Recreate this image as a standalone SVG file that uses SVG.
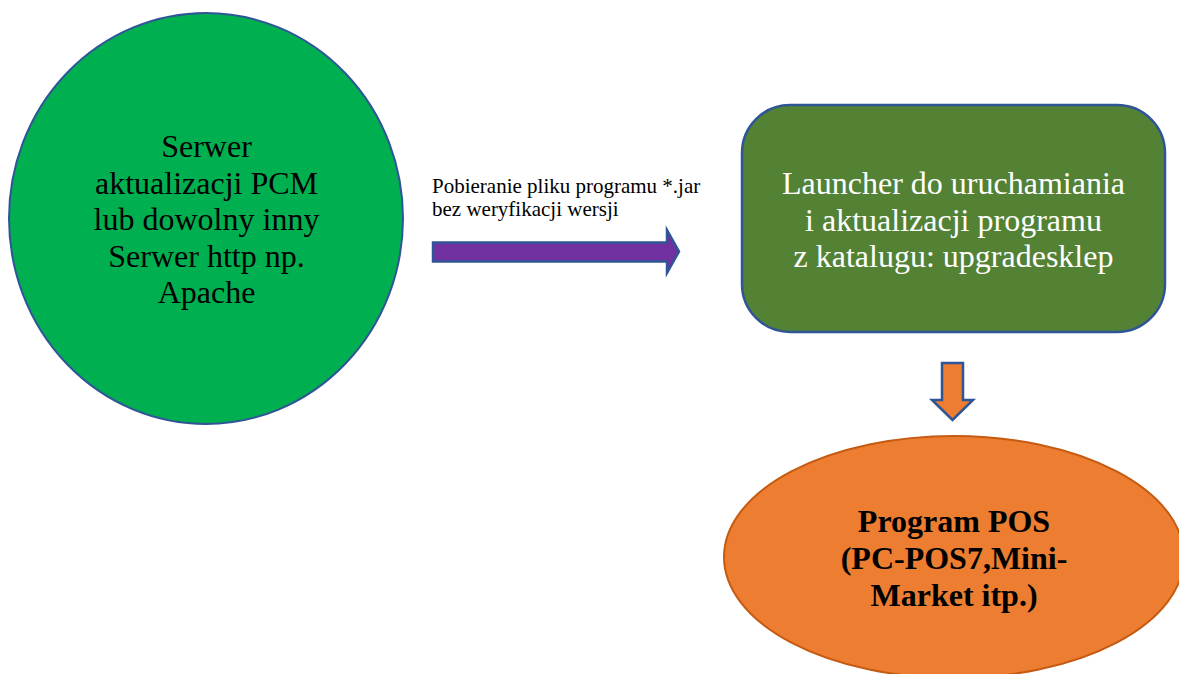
<svg xmlns="http://www.w3.org/2000/svg" width="1179" height="674" viewBox="0 0 1179 674">
<style>
.t{font-family:"Liberation Serif","Times New Roman",serif;font-size:32px;text-anchor:middle;fill:#000}
.w{fill:#fff}
.b{font-weight:bold}
.lbl{font-family:"Liberation Serif","Times New Roman",serif;font-size:21px;fill:#000}
.edge{stroke:#2F5597;stroke-width:2.5;stroke-linejoin:miter}
</style>
<rect width="1179" height="674" fill="#fff"/>
<g id="server">
<ellipse cx="206" cy="218.5" rx="197" ry="205.5" fill="#00B050" stroke="#2F5597" stroke-width="2"/>
<text class="t" x="206.5" y="157">Serwer</text>
<text class="t" x="206.5" y="193.5">aktualizacji PCM</text>
<text class="t" x="206.5" y="230">lub dowolny inny</text>
<text class="t" x="206.5" y="266.5">Serwer http np.</text>
<text class="t" x="206.5" y="303">Apache</text>
</g>
<g id="launcher">
<rect x="742" y="105" width="423" height="227" rx="48" ry="48" fill="#548235" stroke="#2F5597" stroke-width="2.5"/>
<text class="t w" x="953.5" y="194">Launcher do uruchamiania</text>
<text class="t w" x="953.5" y="230.5">i aktualizacji programu</text>
<text class="t w" x="953.5" y="267">z katalugu: upgradesklep</text>
</g>
<g id="pos">
<ellipse cx="954" cy="557" rx="230" ry="121" fill="#ED7D31" stroke="#C55A11" stroke-width="2"/>
<text class="t b" x="954" y="532">Program POS</text>
<text class="t b" x="954" y="569">(PC-POS7,Mini-</text>
<text class="t b" x="954" y="605.5">Market itp.)</text>
</g>
<g id="connectors">
<path class="edge" d="M433,242.5 L667,242.5 L667,230 L679,251.5 L667,273 L667,261.5 L433,261.5 Z" fill="#7030A0"/>
<text class="lbl" x="432" y="193">Pobieranie pliku programu *.jar</text>
<text class="lbl" x="432" y="216">bez weryfikacji wersji</text>
<path class="edge" d="M942,363 L963,363 L963,400 L973,400 L952.5,420 L932,400 L942,400 Z" fill="#ED7D31"/>
</g>
</svg>
